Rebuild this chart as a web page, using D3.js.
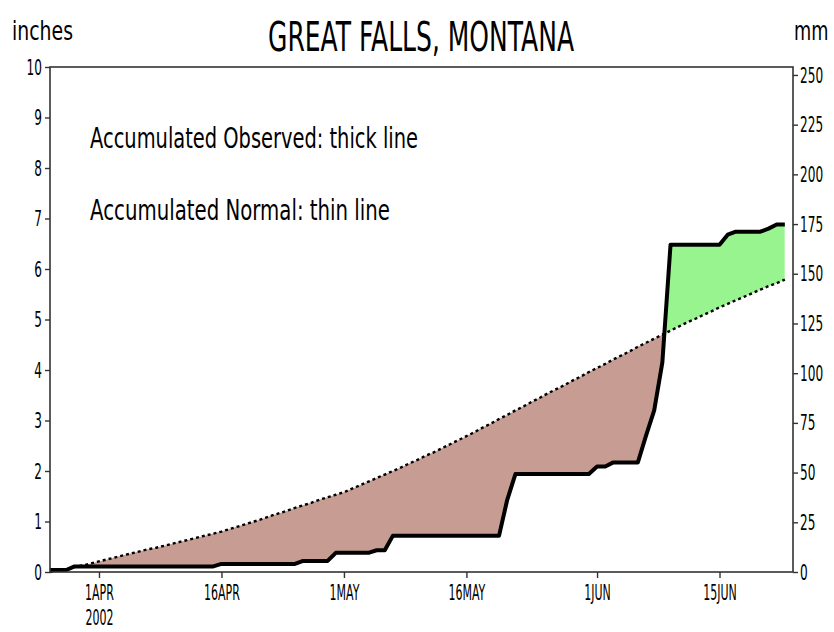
<!DOCTYPE html>
<html>
<head>
<meta charset="utf-8">
<script src="https://cdn.jsdelivr.net/npm/d3@7"></script>
<style>
  body { margin: 0; background: #fff; }
  text { font-family: "DejaVu Sans", sans-serif; fill: #000; }
</style>
</head>
<body>
<svg id="chart" width="834" height="632"></svg>
<script>
// daily series, first day 26 Mar 2002
const startDate = "2002-03-26"

// accumulated observed precipitation (inches)
const observed = [
  0.04, 0.04, 0.04, 0.11, 0.11, 0.11, 0.11, 0.11, 0.11, 0.11,
  0.11, 0.11, 0.11, 0.11, 0.11, 0.11, 0.11, 0.11, 0.11, 0.11,
  0.11, 0.16, 0.16, 0.16, 0.16, 0.16, 0.16, 0.16, 0.16, 0.16,
  0.16, 0.22, 0.22, 0.22, 0.22, 0.38, 0.38, 0.38, 0.38, 0.38,
  0.43, 0.43, 0.72, 0.72, 0.72, 0.72, 0.72, 0.72, 0.72, 0.72,
  0.72, 0.72, 0.72, 0.72, 0.72, 0.72, 1.43, 1.94, 1.94, 1.94,
  1.94, 1.94, 1.94, 1.94, 1.94, 1.94, 1.94, 2.09, 2.09, 2.17,
  2.17, 2.17, 2.17, 2.70, 3.20, 4.15, 6.48, 6.48, 6.48, 6.48,
  6.48, 6.48, 6.48, 6.68, 6.74, 6.74, 6.74, 6.74, 6.80, 6.88,
  6.88
]

// accumulated normal precipitation (inches)
const normal = [
  0.00, 0.03, 0.06, 0.10, 0.13, 0.17, 0.21, 0.25, 0.29, 0.33,
  0.37, 0.41, 0.45, 0.48, 0.52, 0.56, 0.60, 0.64, 0.68, 0.72,
  0.76, 0.80, 0.85, 0.90, 0.95, 1.00, 1.05, 1.11, 1.16, 1.21,
  1.27, 1.32, 1.37, 1.43, 1.48, 1.53, 1.58, 1.65, 1.72, 1.79,
  1.86, 1.93, 2.00, 2.07, 2.15, 2.22, 2.30, 2.37, 2.45, 2.53,
  2.61, 2.69, 2.77, 2.86, 2.94, 3.03, 3.11, 3.20, 3.28, 3.37,
  3.45, 3.54, 3.62, 3.70, 3.79, 3.87, 3.96, 4.04, 4.12, 4.21,
  4.29, 4.37, 4.46, 4.54, 4.62, 4.70, 4.78, 4.86, 4.94, 5.01,
  5.09, 5.16, 5.24, 5.31, 5.38, 5.45, 5.52, 5.59, 5.66, 5.72,
  5.79
]

const tickDates = ["2002-04-01", "2002-04-16", "2002-05-01", "2002-05-16", "2002-06-01", "2002-06-16"]
const tickLabels = ["1APR", "16APR", "1MAY", "16MAY", "1JUN", "15JUN"]
const inchTicks = [0, 1, 2, 3, 4, 5, 6, 7, 8, 9, 10]
const mmTicks = [0, 25, 50, 75, 100, 125, 150, 175, 200, 225, 250]

const parse = d3.timeParse("%Y-%m-%d")
const t0 = parse(startDate)
const rows = observed.map((v, i) => ({
  date: d3.timeDay.offset(t0, i),
  obs: v,
  nrm: normal[i],
}))

const plotL = 50, plotR = 793, plotT = 67, plotB = 572
const svg = d3.select("#chart")

const x = d3.scaleTime()
  .domain([t0, d3.timeDay.offset(t0, 91)])
  .range([plotL, plotR])
const y = d3.scaleLinear().domain([0, 10]).range([plotB, plotT])
const yMm = d3.scaleLinear().domain([0, 254]).range([plotB, plotT])

const defs = svg.append("defs")

// region above the observed line / above the normal line
defs.append("clipPath").attr("id", "aboveObs")
  .append("path")
  .attr("d", d3.area().x((d) => x(d.date)).y0(plotT).y1((d) => y(d.obs))(rows))
defs.append("clipPath").attr("id", "aboveNrm")
  .append("path")
  .attr("d", d3.area().x((d) => x(d.date)).y0(plotT).y1((d) => y(d.nrm))(rows))

// deficit: below normal but above observed
svg.append("path")
  .attr("clip-path", "url(#aboveObs)")
  .attr("fill", "#c79d93")
  .attr("d", d3.area().x((d) => x(d.date)).y0(plotB).y1((d) => y(d.nrm))(rows))

// surplus: below observed but above normal
svg.append("path")
  .attr("clip-path", "url(#aboveNrm)")
  .attr("fill", "#98f48e")
  .attr("d", d3.area().x((d) => x(d.date)).y0(plotB).y1((d) => y(d.obs))(rows))

svg.append("path")
  .attr("fill", "none")
  .attr("stroke", "#000")
  .attr("stroke-width", 2.4)
  .attr("stroke-dasharray", "3,3")
  .attr("d", d3.line().x((d) => x(d.date)).y((d) => y(d.nrm))(rows))

svg.append("path")
  .attr("fill", "none")
  .attr("stroke", "#000")
  .attr("stroke-width", 4)
  .attr("stroke-linejoin", "round")
  .attr("d", d3.line().x((d) => x(d.date)).y((d) => y(d.obs))(rows))

// frame
svg.append("rect")
  .attr("x", plotL).attr("y", plotT)
  .attr("width", plotR - plotL).attr("height", plotB - plotT)
  .attr("fill", "none")
  .attr("stroke", "#333")
  .attr("stroke-width", 1.6)

const sx = 0.55
const styleTicks = (g) => {
  g.select(".domain").remove()
  g.selectAll(".tick line").attr("stroke", "#333").attr("stroke-width", 1.4)
  g.selectAll(".tick text")
    .attr("font-size", 22)
    .attr("font-family", "DejaVu Sans, sans-serif")
}

svg.append("g")
  .attr("transform", `translate(${plotL},0)`)
  .call(d3.axisLeft(y).tickValues(inchTicks).tickSize(5).tickFormat(d3.format("d")))
  .call(styleTicks)
  .call((g) => g.selectAll(".tick text")
    .attr("transform", `scale(${sx},1)`)
    .attr("x", -8 / sx))

svg.append("g")
  .attr("transform", `translate(${plotR},0)`)
  .call(d3.axisRight(yMm).tickValues(mmTicks).tickSize(5).tickFormat(d3.format("d")))
  .call(styleTicks)
  .call((g) => g.selectAll(".tick text")
    .attr("transform", `scale(${sx},1)`)
    .attr("x", 7 / sx))

svg.append("g")
  .attr("transform", `translate(0,${plotB})`)
  .call(d3.axisBottom(x)
    .tickValues(tickDates.map(parse))
    .tickSize(6)
    .tickFormat((d, i) => tickLabels[i]))
  .call(styleTicks)
  .call((g) => g.selectAll(".tick text")
    .attr("transform", `scale(0.5,1)`)
    .attr("y", 12)
    .attr("dy", "0.71em"))
  .call((g) => g.select(".tick text").clone()
    .text("2002")
    .attr("y", 37))

const label = (txt, px, py, size, len, anchor) => svg.append("text")
  .attr("x", px).attr("y", py)
  .attr("font-size", size)
  .attr("text-anchor", anchor || "start")
  .attr("textLength", len)
  .attr("lengthAdjust", "spacingAndGlyphs")
  .text(txt)

label("GREAT FALLS, MONTANA", 268, 51, 41, 306)
label("inches", 12, 40, 26, 61)
label("Accumulated Observed: thick line", 90, 148, 28, 328)
label("Accumulated Normal: thin line", 90, 220, 28, 300)

// unit on the right, squeezed with a transform so it stays inside the page
svg.append("text")
  .attr("transform", "translate(794,40) scale(0.68,1)")
  .attr("font-size", 26)
  .text("mm")
</script>
</body>
</html>
